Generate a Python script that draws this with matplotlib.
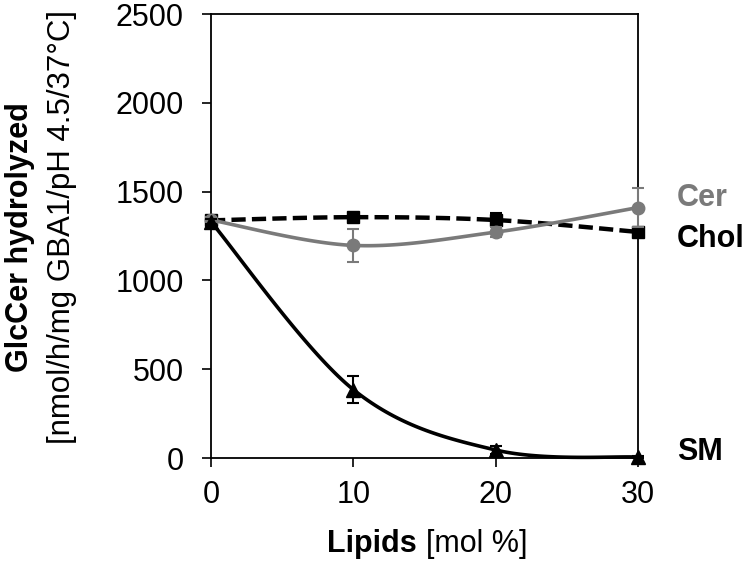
import matplotlib
matplotlib.use('Agg')
import matplotlib.pyplot as plt
import numpy as np

plt.rcParams['font.family'] = ['Liberation Sans', 'DejaVu Sans']

lipids = [0, 10, 20, 30]
sm = [1330, 385, 45, 5]
sm_err = [15, 75, 20, 5]
chol = [1338, 1356, 1340, 1273]
chol_err = [15, 20, 40, 20]
cer = [1340, 1197, 1272, 1410]
cer_err = [15, 95, 30, 110]

gray = '#7a7a7a'


def smooth(x, y, n=40):
    # excel style smoothed line (catmull-rom bezier)
    x = np.asarray(x, float)
    y = np.asarray(y, float)
    px = np.concatenate([[x[0]], x, [x[-1]]])
    py = np.concatenate([[y[0]], y, [y[-1]]])
    xs, ys = [], []
    t = np.linspace(0, 1, n)
    for i in range(1, len(px) - 2):
        p0 = np.array([px[i], py[i]])
        p3 = np.array([px[i + 1], py[i + 1]])
        p1 = p0 + (p3 - np.array([px[i - 1], py[i - 1]])) / 6
        p2 = p3 - (np.array([px[i + 2], py[i + 2]]) - p0) / 6
        b = ((1 - t) ** 3)[:, None] * p0 + (3 * (1 - t) ** 2 * t)[:, None] * p1 \
            + (3 * (1 - t) * t ** 2)[:, None] * p2 + (t ** 3)[:, None] * p3
        xs.append(b[:, 0])
        ys.append(b[:, 1])
    return np.concatenate(xs), np.concatenate(ys)


fig = plt.figure(figsize=(7.47, 5.61), dpi=100)
ax = fig.add_axes([0.2825, 0.1836, 0.5716, 0.7914])

eb = dict(capsize=4, elinewidth=1.5, capthick=1.5, clip_on=False)

sx, sy = smooth(lipids, chol)
ax.plot(sx, sy, color='black', lw=3.2, ls=(0, (3.2, 1.4)), zorder=2, clip_on=False)
ax.errorbar(lipids, chol, yerr=chol_err, fmt='s', color='black', ms=8,
            zorder=3, **eb)

sx, sy = smooth(lipids, cer)
ax.plot(sx, sy, color=gray, lw=2.6, zorder=4, clip_on=False)
ax.errorbar(lipids, cer, yerr=cer_err, fmt='o', color=gray, ms=9,
            zorder=5, **eb)

sx, sy = smooth(lipids, sm)
ax.plot(sx, sy, color='black', lw=2.6, zorder=6, clip_on=False)
ax.errorbar(lipids, sm, yerr=sm_err, fmt='^', color='black', ms=10,
            zorder=7, **eb)

ax.set_xlim(0, 30)
ax.set_ylim(0, 2500)
ax.set_xticks(lipids)
ax.set_yticks(range(0, 2501, 500))
ax.tick_params(direction='out', length=6.5, width=1.2, labelsize=22)
ax.tick_params(axis='y', pad=13)
ax.tick_params(axis='x', pad=9)
for s in ax.spines.values():
    s.set_linewidth(1.3)

ax.text(32.75, 1419, 'Cer', color=gray, fontsize=22, fontweight='bold',
        va='baseline', ha='left', clip_on=False)
ax.text(32.75, 1188, 'Chol', color='black', fontsize=22, fontweight='bold',
        va='baseline', ha='left', clip_on=False)
ax.text(32.75, -11, 'SM', color='black', fontsize=22, fontweight='bold',
        va='baseline', ha='left', clip_on=False)

fig.text(0.0375, 0.578, 'GlcCer hydrolyzed', rotation=90, fontsize=22,
         fontweight='bold', ha='center', va='baseline', rotation_mode='anchor')
fig.text(0.0937, 0.595, '[nmol/h/mg GBA1/pH 4.5/37°C]', rotation=90,
         fontsize=22.5, ha='center', va='baseline', rotation_mode='anchor')

fig.text(0.5575, 0.016, 'Lipids', fontsize=22, fontweight='bold',
         ha='right', va='baseline')
fig.text(0.5705, 0.016, '[mol %]', fontsize=22, ha='left', va='baseline')

fig.savefig('out.png', dpi=100)
